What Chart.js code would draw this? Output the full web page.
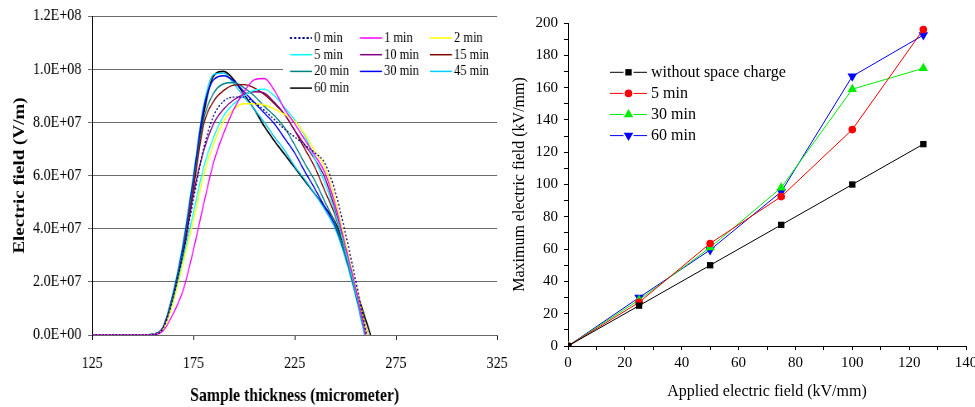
<!DOCTYPE html>
<html>
<head>
<meta charset="utf-8">
<script src="https://cdn.jsdelivr.net/npm/chart.js@4.4.0/dist/chart.umd.min.js"></script>
<style>
  html, body { margin: 0; padding: 0; background: #fff; }
  #wrap { position: relative; width: 975px; height: 407px; overflow: hidden; }
  /* the left figure in the source is squeezed horizontally */
  #left { position: absolute; left: 0; top: 0; transform: scaleX(0.83); transform-origin: 0 0; }
  #right { position: absolute; left: 490px; top: 0; }
</style>
</head>
<body>
<div id="wrap">
  <canvas id="left" width="620" height="407"></canvas>
  <canvas id="right" width="485" height="407"></canvas>
</div>
<script>
const SERIF = '"Liberation Serif", "Times New Roman", serif';

// ---- left panel: field profiles (values in 1e7 V/m) ----
const thickness = [125, 150, 155, 160, 165, 170, 175, 180, 185, 190, 195, 200, 205, 210, 215, 220, 225, 230, 235, 240, 245, 250, 255];
const profileLabels = ['0 min', '1 min', '2 min', '5 min', '10 min', '15 min', '20 min', '30 min', '45 min', '60 min'];
const profileColors = ['#000080', '#ff00ff', '#ffff00', '#00ffff', '#800080', '#800000', '#008080', '#0000ff', '#00ccff', '#000000'];
const profileEnd = [260.5, 260, 261, 260, 261, 261, 260, 260, 259.5, 262.5];

const field0 = [0, 0, 0.02, 0.25, 1.4, 3.1, 5.1, 7.0, 8.25, 8.8, 8.95, 8.95, 8.75, 8.45, 8.1, 7.75, 7.45, 7.15, 6.85, 6.45, 5.4, 3.85, 2.1];
const field1 = [0, 0, 0.01, 0.15, 0.8, 1.7, 3.2, 4.9, 6.5, 7.6, 8.5, 9.15, 9.6, 9.65, 9.2, 8.5, 7.95, 7.35, 6.75, 6.1, 4.9, 3.35, 1.8];
const field2 = [0, 0, 0.02, 0.2, 1.2, 2.75, 4.3, 6.0, 7.2, 8.05, 8.5, 8.7, 8.7, 8.65, 8.5, 8.3, 8.05, 7.55, 6.9, 6.3, 5.1, 3.5, 1.9];
const field5 = [0, 0, 0.02, 0.2, 1.3, 2.9, 4.6, 6.3, 7.45, 8.25, 8.7, 9.0, 9.2, 9.25, 9.0, 8.55, 8.1, 7.5, 6.6, 5.7, 4.6, 3.2, 1.7];
const field10 = [0, 0, 0.02, 0.25, 1.3, 3.0, 5.3, 6.9, 7.95, 8.5, 8.85, 9.05, 9.15, 9.1, 8.75, 8.3, 7.7, 7.15, 6.6, 5.9, 4.7, 3.3, 1.8];
const field15 = [0, 0, 0.02, 0.25, 1.4, 3.1, 5.5, 7.9, 8.8, 9.2, 9.4, 9.42, 9.3, 9.05, 8.7, 8.3, 7.7, 7.0, 6.3, 5.4, 4.5, 3.25, 1.8];
const field20 = [0, 0, 0.03, 0.3, 1.5, 3.3, 5.7, 8.1, 9.1, 9.45, 9.5, 9.3, 9.0, 8.6, 8.25, 7.8, 7.15, 6.45, 5.8, 5.0, 4.2, 3.0, 1.6];
const field30 = [0, 0, 0.03, 0.3, 1.55, 3.4, 5.9, 8.5, 9.6, 9.75, 9.55, 9.15, 8.75, 8.35, 7.95, 7.4, 6.85, 6.15, 5.5, 4.8, 4.1, 3.0, 1.6];
const field45 = [0, 0, 0.03, 0.3, 1.6, 3.5, 6.0, 8.6, 9.8, 9.85, 9.45, 8.95, 8.5, 8.0, 7.45, 6.95, 6.35, 5.85, 5.3, 4.7, 4.0, 2.9, 1.5];
const field60 = [0, 0, 0.02, 0.25, 1.35, 3.2, 5.8, 8.3, 9.75, 9.92, 9.6, 9.05, 8.5, 7.85, 7.3, 6.8, 6.3, 5.8, 5.3, 4.8, 4.25, 3.2, 1.8];
const profiles = [field0, field1, field2, field5, field10, field15, field20, field30, field45, field60];

// ---- right panel: maximum field vs applied field (kV/mm) ----
const applied = [0, 25, 50, 75, 100, 125];
const maxNoCharge = [0, 25, 50, 75, 100, 125];
const max5 = [0, 27, 63.5, 92.5, 134, 196];
const max30 = [0, 28.5, 61, 98, 159, 172];
const max60 = [0, 30, 59.5, 95.5, 167, 192.5];
const maxLabels = ['without space charge', '5 min', '30 min', '60 min'];

function sciLabel(v) {
    if (v === 0) return '0.0E+00';
    const e = Math.floor(Math.log10(v) + 1e-9);
    const m = v / Math.pow(10, e);
    return m.toFixed(1) + 'E+' + String(e).padStart(2, '0');
}

function drawMarker(ctx, style, rotation, r, x, y, color) {
    ctx.fillStyle = color;
    ctx.beginPath();
    if (style === 'rect') {
        const s = r * Math.SQRT2;
        ctx.rect(x - s / 2, y - s / 2, s, s);
    } else if (style === 'triangle') {
        let rad = rotation * Math.PI / 180;
        for (let k = 0; k < 3; k++) {
            const px = x + Math.sin(rad) * r, py = y - Math.cos(rad) * r;
            if (k === 0) ctx.moveTo(px, py); else ctx.lineTo(px, py);
            rad += 2 * Math.PI / 3;
        }
        ctx.closePath();
    } else {
        ctx.arc(x, y, r, 0, Math.PI * 2);
    }
    ctx.fill();
}

// legend drawn inside the plot, like the original figure
const insideLegend = {
    id: 'insideLegend',
    afterDatasetsDraw(chart, args, opts) {
        const ctx = chart.ctx;
        ctx.save();
        if (opts.background) {
            ctx.fillStyle = opts.background;
            ctx.fillRect(opts.box[0], opts.box[1], opts.box[2], opts.box[3]);
        }
        ctx.font = opts.font;
        ctx.textBaseline = 'middle';
        chart.data.datasets.forEach((ds, i) => {
            const col = i % opts.cols, row = Math.floor(i / opts.cols);
            const x = opts.x + col * opts.colWidth;
            const y = opts.y + row * opts.rowHeight;
            const mid = x + opts.lineLength / 2;
            ctx.strokeStyle = ds.borderColor;
            ctx.lineWidth = ds.borderDash ? 2.2 : opts.lineWidth;
            ctx.setLineDash(ds.borderDash ? [2.5, 2.5] : []);
            ctx.beginPath();
            if (opts.marker) {
                ctx.moveTo(x, y); ctx.lineTo(mid - opts.gap, y);
                ctx.moveTo(mid + opts.gap, y); ctx.lineTo(x + opts.lineLength, y);
            } else {
                ctx.moveTo(x, y); ctx.lineTo(x + opts.lineLength, y);
            }
            ctx.stroke();
            ctx.setLineDash([]);
            if (opts.marker) {
                drawMarker(ctx, ds.pointStyle, ds.pointRotation || 0, ds.pointRadius, mid, y, ds.borderColor);
            }
            ctx.fillStyle = '#000';
            ctx.fillText(ds.label, x + opts.lineLength + opts.textGap, y);
        });
        ctx.restore();
    }
};

class ProfileChart {
    constructor(ctx) {
        this.chart = new Chart(ctx, {
            type: 'line',
            data: { datasets: this.buildDatasets() },
            options: this.chartOptions,
            plugins: [insideLegend]
        });
    }

    buildDatasets() {
        return profiles.map((vals, i) => {
            const pts = thickness.map((t, k) => ({ x: t, y: vals[k] * 1e7 }));
            pts.push({ x: profileEnd[i], y: 0 });
            return {
                label: profileLabels[i],
                data: pts,
                borderColor: profileColors[i],
                borderWidth: i === 9 ? 1.7 : 1.4,
                borderDash: i === 0 ? [2, 2] : undefined,
                pointRadius: 0,
                cubicInterpolationMode: 'monotone',
                fill: false
            };
        });
    }

    chartOptions = {
        responsive: false,
        animation: false,
        layout: { padding: { top: 16, right: 21, left: 0, bottom: 0 } },
        plugins: {
            legend: { display: false },
            tooltip: { enabled: false },
            insideLegend: {
                x: 349.4, y: 38, cols: 3, colWidth: 84.3, rowHeight: 16.7,
                lineLength: 26.5, textGap: 2.5, lineWidth: 1.5, marker: false,
                font: '15px ' + SERIF, background: '#fff', box: [341, 27, 258, 71]
            }
        },
        scales: {
            x: {
                type: 'linear', min: 125, max: 325,
                ticks: { stepSize: 50, color: '#000', padding: 13, maxRotation: 0, font: { family: SERIF, size: 17 } },
                grid: { drawOnChartArea: false, drawTicks: true, tickLength: 5, color: '#000' },
                border: { color: '#666' },
                title: { display: true, text: 'Sample thickness (micrometer)', color: '#000', padding: { top: 0, bottom: 0 },
                         font: { family: SERIF, size: 19, weight: 'bold' } },
                afterFit(s) { s.height = 72; s.paddingLeft = 0; s.paddingRight = 0; }
            },
            y: {
                min: 0, max: 1.2e8,
                ticks: { stepSize: 2e7, color: '#000', padding: 8, callback: sciLabel, font: { family: SERIF, size: 17 } },
                grid: { color: '#6b6b6b', lineWidth: 1, tickLength: 5 },
                border: { color: '#000' },
                title: { display: true, text: 'Electric field (V/m)', color: '#000', padding: { top: 13, bottom: 0 },
                         font: { family: SERIF, size: 19, weight: 'bold' } },
                afterFit(s) { s.width = 111; s.paddingTop = 0; s.paddingBottom = 0; }
            }
        }
    };
}

class MaxFieldChart {
    constructor(ctx) {
        this.chart = new Chart(ctx, {
            type: 'line',
            data: { datasets: this.buildDatasets() },
            options: this.chartOptions,
            plugins: [insideLegend]
        });
    }

    buildDatasets() {
        const series = [maxNoCharge, max5, max30, max60];
        const colors = ['#000000', '#ff0000', '#00ee00', '#0000ff'];
        const styles = ['rect', 'circle', 'triangle', 'triangle'];
        const rotations = [0, 0, 0, 180];
        const radii = [4.5, 3.8, 5.5, 5.5];
        return series.map((vals, i) => ({
            label: maxLabels[i],
            data: applied.map((a, k) => ({ x: a, y: vals[k] })),
            borderColor: colors[i],
            backgroundColor: colors[i],
            borderWidth: 1,
            pointStyle: styles[i],
            pointRotation: rotations[i],
            pointRadius: radii[i],
            pointBorderWidth: 0,
            tension: 0
        }));
    }

    chartOptions = {
        responsive: false,
        animation: false,
        layout: { padding: { top: 23, right: 9, left: 0, bottom: 0 } },
        plugins: {
            legend: { display: false },
            tooltip: { enabled: false },
            insideLegend: {
                x: 120, y: 72.3, cols: 1, colWidth: 0, rowHeight: 21.1,
                lineLength: 37, gap: 5, textGap: 4, lineWidth: 1, marker: true,
                font: '16px ' + SERIF
            }
        },
        scales: {
            x: {
                type: 'linear', min: 0, max: 140,
                ticks: { stepSize: 10, autoSkip: false, color: '#000', padding: 4, maxRotation: 0,
                         callback: v => (v % 20 === 0 ? v : ''), font: { family: SERIF, size: 15 } },
                grid: { drawOnChartArea: false, drawTicks: true, tickLength: 4, color: '#000' },
                border: { color: '#000' },
                title: { display: true, text: 'Applied electric field (kV/mm)', color: '#000', padding: { top: 0, bottom: 6 },
                         font: { family: SERIF, size: 16 } },
                afterFit(s) { s.height = 61; s.paddingLeft = 0; s.paddingRight = 0; }
            },
            y: {
                min: 0, max: 200,
                ticks: { stepSize: 10, autoSkip: false, color: '#000', padding: 6,
                         callback: v => (v % 20 === 0 ? v : ''), font: { family: SERIF, size: 15 } },
                grid: { drawOnChartArea: false, drawTicks: true, tickLength: 4, color: '#000' },
                border: { color: '#000' },
                title: { display: true, text: 'Maximum electric field (kV/mm)', color: '#000', padding: { top: 20, bottom: 0 },
                         font: { family: SERIF, size: 16 } },
                afterFit(s) { s.width = 78; s.paddingTop = 0; s.paddingBottom = 0; }
            }
        }
    };
}

new ProfileChart(document.getElementById('left').getContext('2d'));
new MaxFieldChart(document.getElementById('right').getContext('2d'));
</script>
</body>
</html>
